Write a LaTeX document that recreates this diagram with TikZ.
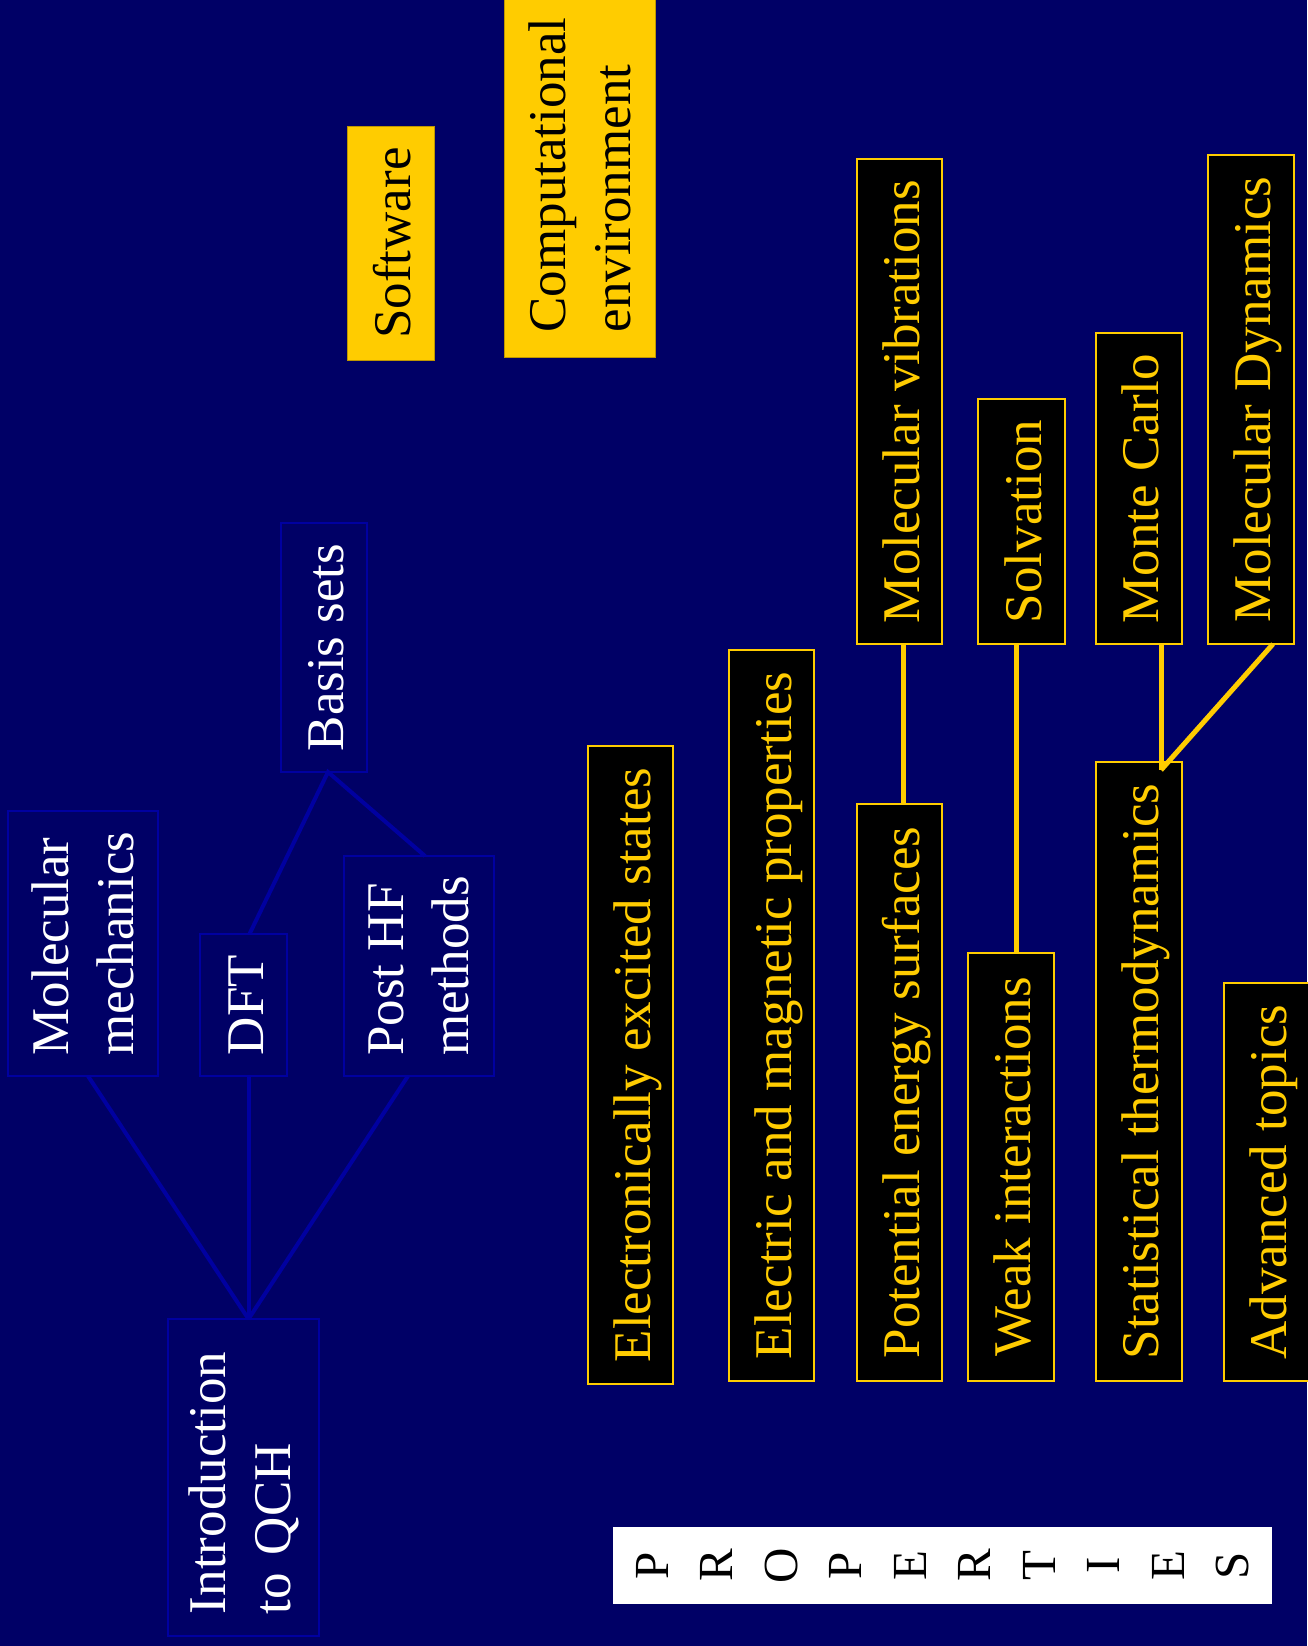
\documentclass[tikz,border=0pt]{standalone}
\usepackage{fontspec}
\setmainfont{Liberation Serif}
\usetikzlibrary{calc}
\definecolor{bgnavy}{RGB}{0,0,102}
\definecolor{lineblue}{RGB}{0,0,160}
\definecolor{gold}{RGB}{255,204,0}
\definecolor{goldedge}{RGB}{190,150,0}
\begin{document}
\begin{tikzpicture}[x=1pt,y=-1pt,
  base/.style={rotate=90, inner sep=0pt, outer sep=0pt, font=\fontsize{53}{65}\selectfont},
  oneline/.style={text height=39pt, text depth=0pt},
  bluebox/.style={base, draw=lineblue, line width=1.5pt, text=white, align=left},
  blackbox/.style={base, oneline, draw=gold, fill=black, line width=2pt, text=gold, align=center},
  goldbox/.style={base, fill=gold, draw=goldedge, line width=0.8pt, text=black, align=left},
  dim/.style 2 args={minimum width=#1, minimum height=#2},
  blueline/.style={draw=lineblue, line width=4pt},
  goldline/.style={draw=gold, line width=5pt}
]
\useasboundingbox (0,0) rectangle (1307,1646);
\fill[bgnavy] (0,0) rectangle (1307,1646);

% blue method boxes
\node[bluebox, dim={265pt}{150pt}] (MM) at (83,943.5) {Molecular\\mechanics};
\node[bluebox, oneline, dim={142pt}{87pt}] (DFT) at (243.5,1005) {DFT};
\node[bluebox, dim={220pt}{150pt}] (PHF) at (419,966) {Post HF\\methods};
\node[bluebox, oneline, dim={249pt}{86pt}] (BS) at (324,647.5) {Basis sets};
\node[bluebox, text width=273pt, dim={317pt}{151pt}] (IQ) at (243.5,1477.5) {Introduction\\to QCH};

% gold boxes
\node[goldbox, oneline, dim={234pt}{87pt}] (SW) at (390.5,243) {Software};
\node[goldbox, dim={365pt}{151pt}] (CE) at (579.5,175) {Computational\\environment};

% property boxes
\node[blackbox, dim={638pt}{85pt}] (EES) at (630.5,1065) {Electronically excited states};
\node[blackbox, dim={731pt}{85pt}] (EMP) at (771.5,1015.5) {Electric and magnetic properties};
\node[blackbox, dim={485pt}{85pt}] (MV) at (899.5,401.5) {Molecular vibrations};
\node[blackbox, dim={577pt}{85pt}] (PES) at (899.5,1092.5) {Potential energy surfaces};
\node[blackbox, dim={245pt}{87pt}] (SOL) at (1021.5,521.5) {Solvation};
\node[blackbox, dim={428pt}{86pt}] (WI) at (1011,1167) {Weak interactions};
\node[blackbox, dim={311pt}{86pt}] (MC) at (1139,488.5) {Monte Carlo};
\node[blackbox, dim={619pt}{86pt}] (ST) at (1139,1071.5) {Statistical thermodynamics};
\node[blackbox, dim={489pt}{86pt}] (MD) at (1251,399.5) {Molecular Dynamics};
\node[blackbox, dim={398pt}{85pt}] (ADV) at (1266.5,1182) {Advanced topics};

% PROPERTIES banner
\node[base, fill=white, text=black, font=\fontsize{49}{64.5}\selectfont, align=center,
      minimum width=77pt, minimum height=659pt] (PR) at (942.5,1565.5)
      {P\\R\\O\\P\\E\\R\\T\\I\\E\\S};

% blue connectors
\coordinate (iqtop) at ([xshift=5pt]IQ.east);
\draw[blueline] ([xshift=5pt]MM.west) -- (iqtop);
\draw[blueline] (iqtop |- DFT.west) -- (iqtop);
\draw[blueline] ([xshift=-11pt]PHF.west) -- (iqtop);
\draw[blueline] ([xshift=6pt]DFT.east) -- ([xshift=4pt]BS.west) -- ([xshift=6pt]PHF.east);

% gold connectors
\draw[goldline] ([xshift=4pt]MV.west) -- ([xshift=4pt]PES.east);
\coordinate (solb) at ([xshift=-5pt]SOL.west);
\draw[goldline] (solb) -- (solb |- WI.east);
\coordinate (stj) at ([xshift=22pt,yshift=-8pt]ST.east);
\draw[goldline] ([xshift=22pt]MC.west) -- (stj);
\draw[goldline] ([xshift=22pt]MD.west) -- (stj);
\end{tikzpicture}
\end{document}
